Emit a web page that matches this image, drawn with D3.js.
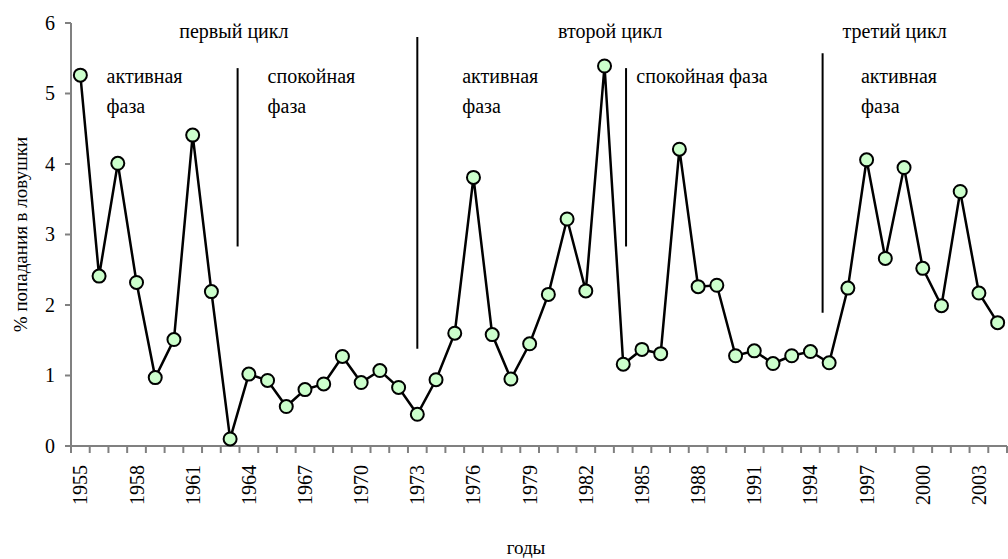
<!DOCTYPE html>
<html>
<head>
<meta charset="utf-8">
<script src="https://cdn.jsdelivr.net/npm/d3@7"></script>
</head>
<body style="margin:0">
<svg id="chart" width="1008" height="559" font-family="Liberation Serif"></svg>
<script>
const years = d3.range(1955, 2005)
const values = [5.26, 2.41, 4.01, 2.32, 0.97, 1.51, 4.41, 2.19, 0.1, 1.02,
  0.93, 0.56, 0.8, 0.88, 1.27, 0.9, 1.07, 0.83, 0.45, 0.94,
  1.6, 3.81, 1.58, 0.95, 1.45, 2.15, 3.22, 2.2, 5.39, 1.16,
  1.37, 1.31, 4.21, 2.26, 2.28, 1.28, 1.35, 1.17, 1.28, 1.34,
  1.18, 2.24, 4.06, 2.66, 3.95, 2.52, 1.99, 3.61, 2.17, 1.75]
const yTicks = [0, 1, 2, 3, 4, 5, 6]

// vertical separators: [year position, from value, to value]
const dividers = [[1963.4, 2.83, 5.36], [1973.0, 1.38, 5.8], [1984.15, 2.83, 5.36], [1994.65, 1.89, 5.57]]
// annotation labels: [year position, value, text]
const labels = [
  [1963.2, 5.79, 'первый цикл', 'middle'],
  [1956.4, 5.15, 'активная'], [1956.4, 4.72, 'фаза'],
  [1965.0, 5.15, 'спокойная'], [1965.0, 4.72, 'фаза'],
  [1975.4, 5.15, 'активная'], [1975.4, 4.72, 'фаза'],
  [1983.3, 5.79, 'второй цикл', 'middle'],
  [1984.7, 5.15, 'спокойная фаза'],
  [1998.5, 5.79, 'третий цикл', 'middle'],
  [1996.7, 5.15, 'активная'], [1996.7, 4.72, 'фаза']
]

const width = 1008, height = 559
const margin = { left: 71, right: 1, top: 23, bottom: 113 }
const gray = '#808080'

const svg = d3.select('#chart')

const x = d3.scaleBand()
  .domain(years)
  .range([margin.left, width - margin.right])
const y = d3.scaleLinear()
  .domain([0, 6])
  .range([height - margin.bottom, margin.top])

// continuous year position -> pixel
const xPos = (v) => x(1955) + x.bandwidth() / 2 + (v - 1955) * x.step()

// y axis
const yg = svg.append('g')
yg.append('line')
  .attr('x1', margin.left).attr('x2', margin.left)
  .attr('y1', y(0)).attr('y2', y(6))
  .attr('stroke', gray).attr('stroke-width', 2)
yg.selectAll('line.yt')
  .data(yTicks)
  .enter().append('line')
  .attr('class', 'yt')
  .attr('x1', margin.left - 6).attr('x2', margin.left)
  .attr('y1', (d) => y(d)).attr('y2', (d) => y(d))
  .attr('stroke', gray).attr('stroke-width', 2)
yg.selectAll('text')
  .data(yTicks)
  .enter().append('text')
  .attr('x', margin.left - 16)
  .attr('y', (d) => y(d))
  .attr('dy', '0.34em')
  .attr('text-anchor', 'end')
  .attr('font-size', 20)
  .text((d) => d)

// x axis: ticks between categories
const xg = svg.append('g')
  .attr('transform', 'translate(0,' + y(0) + ')')
xg.append('line')
  .attr('x1', margin.left).attr('x2', width - margin.right)
  .attr('stroke', gray).attr('stroke-width', 2)
xg.selectAll('line.tk')
  .data(years.concat([2005]))
  .enter().append('line')
  .attr('class', 'tk')
  .attr('x1', (d) => x(1955) + (d - 1955) * x.step())
  .attr('x2', (d) => x(1955) + (d - 1955) * x.step())
  .attr('y1', 0).attr('y2', 7)
  .attr('stroke', gray).attr('stroke-width', 2)
xg.selectAll('text')
  .data(years.filter((d) => (d - 1955) % 3 === 0))
  .enter().append('text')
  .attr('transform', (d) => 'translate(' + (x(d) + x.bandwidth() / 2 + 7) + ',19) rotate(-90)')
  .attr('text-anchor', 'end')
  .attr('font-size', 20)
  .text((d) => d)

// axis titles
svg.append('text')
  .attr('transform', 'translate(27,' + (y(3)) + ') rotate(-90)')
  .attr('text-anchor', 'middle')
  .attr('font-size', 19)
  .text('% попадания в ловушки')
svg.append('text')
  .attr('x', 526).attr('y', 554)
  .attr('text-anchor', 'middle')
  .attr('font-size', 19)
  .text('годы')

// dividers
svg.selectAll('line.div')
  .data(dividers)
  .enter().append('line')
  .attr('class', 'div')
  .attr('x1', (d) => xPos(d[0])).attr('x2', (d) => xPos(d[0]))
  .attr('y1', (d) => y(d[1])).attr('y2', (d) => y(d[2]))
  .attr('stroke', '#000').attr('stroke-width', 2)

// annotation labels
svg.selectAll('text.lbl')
  .data(labels)
  .enter().append('text')
  .attr('class', 'lbl')
  .attr('x', (d) => xPos(d[0]))
  .attr('y', (d) => y(d[1]))
  .attr('text-anchor', (d) => d[3] || 'start')
  .attr('font-size', 20)
  .text((d) => d[2])

// series
const line = d3.line()
  .x((d, i) => x(years[i]) + x.bandwidth() / 2)
  .y((d) => y(d))
svg.append('path')
  .datum(values)
  .attr('d', line)
  .attr('fill', 'none')
  .attr('stroke', '#000')
  .attr('stroke-width', 2.5)

svg.selectAll('circle')
  .data(values)
  .enter().append('circle')
  .attr('cx', (d, i) => x(years[i]) + x.bandwidth() / 2)
  .attr('cy', (d) => y(d))
  .attr('r', 6.5)
  .attr('fill', '#ccffcc')
  .attr('stroke', '#000')
  .attr('stroke-width', 2)
</script>
</body>
</html>
